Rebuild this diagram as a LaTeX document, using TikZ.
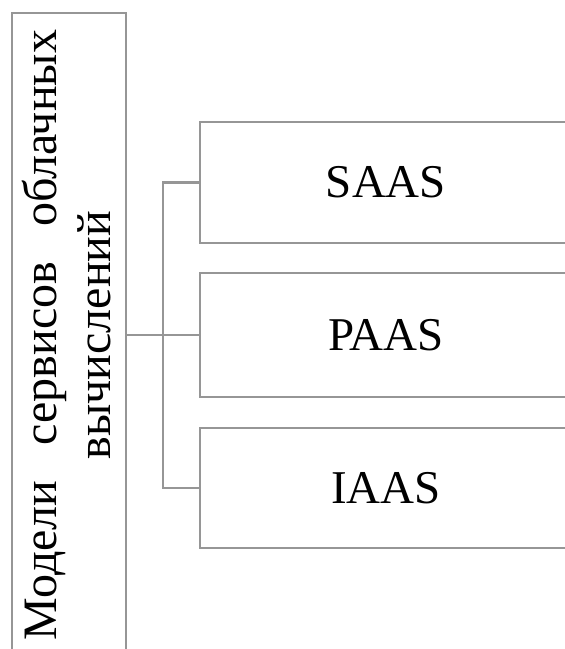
\documentclass[tikz,border=0pt]{standalone}
\usepackage{fontspec}
\setmainfont{Liberation Serif}
\definecolor{frame}{RGB}{150,150,150}
\begin{document}
\begin{tikzpicture}[x=1pt,y=1pt,
  boxline/.style={draw=frame, line width=2.6pt},
  service/.style={boxline, rectangle, minimum width=372pt, minimum height=121pt,
    inner sep=0pt, font=\fontsize{47}{52}\selectfont},
  vtext/.style={rotate=90, anchor=base, inner sep=0pt, font=\fontsize{48}{53}\selectfont}]
  \useasboundingbox (0,0) rectangle (565,649);
  \clip (0,0) rectangle (565,649);
  % parent block with vertical caption
  \node[boxline, rectangle, minimum width=114pt, minimum height=686pt, inner sep=0pt]
    (model) at (69,293) {};
  \node[vtext] (cap1) at (57,314) {\makebox[610pt][s]{Модели сервисов облачных}};
  \node[vtext] (cap2) at (110,314) {вычислений};
  % service models
  \node[service] (saas) at (386,466.5) {SAAS};
  \node[service, minimum height=124pt] (paas) at (386,314) {PAAS};
  \node[service, minimum height=120pt] (iaas) at (386,161) {IAAS};
  % connectors
  \coordinate (bus) at (163,314);
  \draw[boxline] (model.east |- paas.west) -- (paas.west);
  \draw[boxline] (saas.west) -- (saas.west -| bus) -- (iaas.west -| bus) -- (iaas.west);
\end{tikzpicture}
\end{document}
